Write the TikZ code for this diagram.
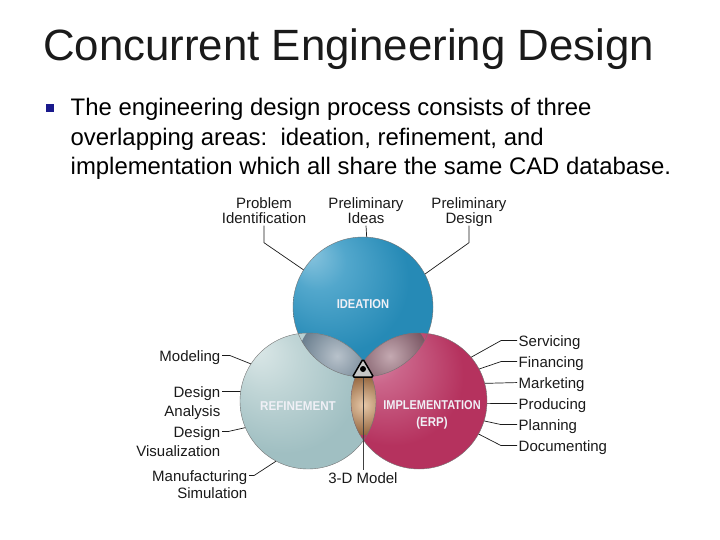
\documentclass[tikz,border=0pt]{standalone}
\usepackage{fontspec}
\setmainfont{Liberation Sans}
\usepackage{graphicx}
\usetikzlibrary{calc}

\definecolor{ideaHi}{HTML}{8CC6DF}
\definecolor{ideaHM}{HTML}{52A7CC}
\definecolor{ideaMid}{HTML}{268AB6}
\definecolor{ideaDark}{HTML}{135A7E}
\definecolor{refHi}{HTML}{DCE8E8}
\definecolor{refHM}{HTML}{C0D5D6}
\definecolor{refMid}{HTML}{A0BFC2}
\definecolor{refDark}{HTML}{6A9097}
\definecolor{impHi}{HTML}{DE98B2}
\definecolor{impHM}{HTML}{CB658A}
\definecolor{impMid}{HTML}{B5325E}
\definecolor{impDark}{HTML}{80173D}
\definecolor{lensIRin}{HTML}{B8C2CB}
\definecolor{lensIRout}{HTML}{6B7F8F}
\definecolor{lensIPin}{HTML}{C4A9B1}
\definecolor{lensIPout}{HTML}{7A5663}
\definecolor{lensRPin}{HTML}{E6C8A8}
\definecolor{lensRPout}{HTML}{93643D}
\definecolor{bulletblue}{HTML}{1A1A8C}
\definecolor{inkc}{HTML}{1A1A1A}
\definecolor{lbl}{HTML}{F0F0F6}

\pgfdeclareradialshading{ideash}{\pgfpoint{-20bp}{20bp}}{color(0bp)=(ideaHi); color(10bp)=(ideaHM); color(26bp)=(ideaMid); color(42bp)=(ideaMid); color(50bp)=(ideaDark)}
\pgfdeclareradialshading{refsh}{\pgfpoint{-20bp}{20bp}}{color(0bp)=(refHi); color(12bp)=(refHM); color(28bp)=(refMid); color(43bp)=(refMid); color(50bp)=(refDark)}
\pgfdeclareradialshading{impsh}{\pgfpoint{-20bp}{20bp}}{color(0bp)=(impHi); color(10bp)=(impHM); color(26bp)=(impMid); color(42bp)=(impMid); color(50bp)=(impDark)}

\begin{document}
\begin{tikzpicture}[x=1bp, y=-1bp,
  lab/.style={font=\fontsize{15bp}{17bp}\selectfont, inner sep=1.5bp, text depth=0pt, text=inkc},
  conn/.style={draw=inkc, line width=0.7bp},
  inlab/.style={font=\fontsize{12.8bp}{14bp}\selectfont\bfseries, text=lbl, inner sep=0pt},
  body/.style={font=\fontsize{23.9bp}{28bp}\selectfont, text=black, inner sep=0pt, anchor=base west},
  edge/.style={draw=black!55, line width=0.4bp}]
\useasboundingbox[fill=white] (0,0) rectangle (720,540);

% title and bullet text
\node[font=\fontsize{43.8bp}{50bp}\selectfont, text=inkc, inner sep=0pt, anchor=base west] (title) at (43,61) {Concurrent Engineering Design};
\node[fill=bulletblue, minimum size=8.5bp, inner sep=0pt] (bul) at (50,108) {};
\node[body] (b1) at (70.5,116) {The engineering design process consists of three};
\node[body] (b2) at (70.5,146) {overlapping areas:\ \ ideation, refinement, and};
\node[body] (b3) at (70.5,175) {implementation which all share the same CAD database.};

% circles
\node[circle, minimum size=140bp, inner sep=0pt, shade, shading=ideash] (ide) at (363,307) {};
\node[circle, minimum size=136bp, inner sep=0pt, shade, shading=refsh] (ref) at (308,401) {};
\node[circle, minimum size=136bp, inner sep=0pt, shade, shading=impsh] (imp) at (419,401) {};

% lenses
\begin{scope}
  \clip (ide.center) circle[radius=70bp];
  \clip (ref.center) circle[radius=68bp];
  \shade[inner color=lensIRin, outer color=lensIRout] (337,356) circle[radius=38bp];
\end{scope}
\begin{scope}
  \clip (ide.center) circle[radius=70bp];
  \clip (imp.center) circle[radius=68bp];
  \shade[inner color=lensIPin, outer color=lensIPout] (390,356) circle[radius=38bp];
\end{scope}
\begin{scope}
  \clip (ref.center) circle[radius=68bp];
  \clip (imp.center) circle[radius=68bp];
  \shade[inner color=lensRPin, outer color=lensRPout] (363.5,405) circle[radius=30bp];
  \draw[black, line width=1.2bp] (ide.center) circle[radius=70bp];
\end{scope}

% outlines
\draw[edge] (ide.center) circle[radius=70bp];
\draw[edge] (ref.center) circle[radius=68bp];
\draw[edge] (imp.center) circle[radius=68bp];

% centre triangle and 3-D model
\coordinate (dot) at (363,369);
\node[lab, anchor=base] (model) at (363,483) {3-D Model};
\draw[draw=black!75, line width=0.8bp] (dot) -- (model.north);
\filldraw[fill=black!22, draw=black, line width=1.5bp, rounded corners=1.5bp]
  (363,359) -- (373.5,377) -- (352.5,377) -- cycle;
\fill[black] (dot) circle[radius=3bp];

% labels inside circles
\node[inlab, anchor=base] (tide) at (363,308) {\scalebox{0.87}[1]{IDEATION}};
\node[inlab, anchor=base] (tref) at (298,410) {\scalebox{0.91}[1]{REFINEMENT}};
\node[inlab, anchor=base] (timp) at (432,409) {\scalebox{0.86}[1]{IMPLEMENTATION}};
\node[inlab, anchor=base] (terp) at (432,426) {\scalebox{0.9}[1]{(ERP)}};

% top labels
\node[lab, anchor=base] (pid1) at (264,209) {Problem};
\node[lab, anchor=base] (pid2) at (264,224) {Identification};
\node[lab, anchor=base] (pii1) at (366,209) {Preliminary};
\node[lab, anchor=base] (pii2) at (366,224) {Ideas};
\node[lab, anchor=base] (pde1) at (469,209) {Preliminary};
\node[lab, anchor=base] (pde2) at (469,224) {Design};
\draw[conn] (pid2.south) -- ++(0,17) -- (ide.148);
\draw[conn] (pii2.south) -- (ide.87);
\draw[conn] (pde2.south) -- ++(0,17) -- (ide.28);

% left labels
\node[lab, anchor=base east] (mod) at (222,361) {Modeling};
\node[lab, anchor=base east] (da1) at (222,397) {Design};
\node[lab, anchor=base east] (da2) at (222,416) {Analysis};
\node[lab, anchor=base east] (dv1) at (222,437) {Design};
\node[lab, anchor=base east] (dv2) at (222,456) {Visualization};
\node[lab, anchor=base east] (mf1) at (249,481) {Manufacturing};
\node[lab, anchor=base east] (mf2) at (249,498) {Simulation};
\draw[conn] (mod.east) -- ++(8,0) -- (ref.147);
\draw[conn] (da1.east) -- (ref.172);
\draw[conn] (dv1.east) -- ++(6,0) -- (ref.203);
\draw[conn] (mf1.east) -- ++(5,0) -- (ref.242);

% right labels
\node[lab, anchor=base west] (serv) at (517,346) {Servicing};
\node[lab, anchor=base west] (fin) at (517,367) {Financing};
\node[lab, anchor=base west] (mkt) at (517,388) {Marketing};
\node[lab, anchor=base west] (prod) at (517,409) {Producing};
\node[lab, anchor=base west] (plan) at (517,430) {Planning};
\node[lab, anchor=base west] (doc) at (517,451) {Documenting};
\draw[conn] (serv.west) -- ++(-16,0) -- (imp.40);
\draw[conn] (fin.west) -- ++(-16,0) -- (imp.28);
\draw[conn] (mkt.west) -- (imp.15);
\draw[conn] (prod.west) -- (imp.-2);
\draw[conn] (plan.west) -- ++(-16,0) -- (imp.-17);
\draw[conn] (doc.west) -- ++(-16,0) -- (imp.-29);
\end{tikzpicture}
\end{document}
